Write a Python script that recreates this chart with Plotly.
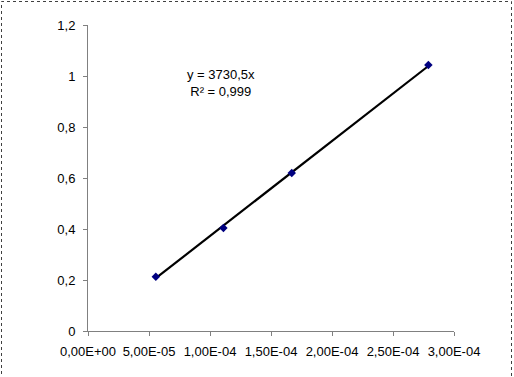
import numpy as np
import plotly.graph_objects as go

conc = [5.56e-5, 1.11e-4, 1.67e-4, 2.79e-4]
absorb = [0.213, 0.404, 0.62, 1.043]
x_ticks = [0, 5e-5, 1e-4, 1.5e-4, 2e-4, 2.5e-4, 3e-4]
x_labels = ["0,00E+00", "5,00E-05", "1,00E-04", "1,50E-04", "2,00E-04", "2,50E-04", "3,00E-04"]
y_ticks = [0, 0.2, 0.4, 0.6, 0.8, 1.0, 1.2]
y_labels = ["0", "0,2", "0,4", "0,6", "0,8", "1", "1,2"]
eq_text = "y = 3730,5x<br>R² = 0,999"

xa = np.array(conc)
ya = np.array(absorb)
slope = float((xa * ya).sum() / (xa * xa).sum())
xfit = [xa.min(), xa.max()]
yfit = [slope * v for v in xfit]

fig = go.Figure()
fig.add_trace(go.Scatter(x=xfit, y=yfit, mode="lines",
                         line=dict(color="black", width=2.2), hoverinfo="skip"))
fig.add_trace(go.Scatter(x=conc, y=absorb, mode="markers",
                         marker=dict(symbol="diamond", size=6.5, color="#000080")))

FS = 13
axis_common = dict(showgrid=False, zeroline=False, showline=True, linecolor="#808080",
                   linewidth=1, ticks="outside", ticklen=4, tickcolor="#808080",
                   tickfont=dict(family="Arial", size=FS, color="black"))
fig.update_xaxes(range=[0, 3e-4], tickvals=x_ticks, ticktext=x_labels,
                 ticklabelstandoff=4, **axis_common)
fig.update_yaxes(range=[0, 1.2], tickvals=y_ticks, ticktext=y_labels,
                 ticklabelstandoff=5, **axis_common)

W, H = 514, 377
L, R, T, B = 88, 60, 25, 46
pw, ph = W - L - R, H - T - B
def px(xp):
    return (xp - L) / pw
def py(yp):
    return (H - B - yp) / ph

fig.add_annotation(x=px(221), y=py(65), xref="paper", yref="paper",
                   text=eq_text, showarrow=False, align="center",
                   font=dict(family="Arial", size=FS, color="black"))

fig.add_shape(type="rect", xref="paper", yref="paper",
              x0=px(1.5), x1=px(511.5), y0=py(382), y1=py(1.5),
              line=dict(color="#404040", width=1, dash="dot"))

fig.update_layout(width=W, height=H, margin=dict(l=L, r=R, t=T, b=B),
                  paper_bgcolor="white", plot_bgcolor="white", showlegend=False,
                  font=dict(family="Arial", size=FS, color="black"))
fig.write_html("out.html", config={"displayModeBar": False},
               post_script="document.body.style.margin='0';document.body.style.overflow='hidden';")
